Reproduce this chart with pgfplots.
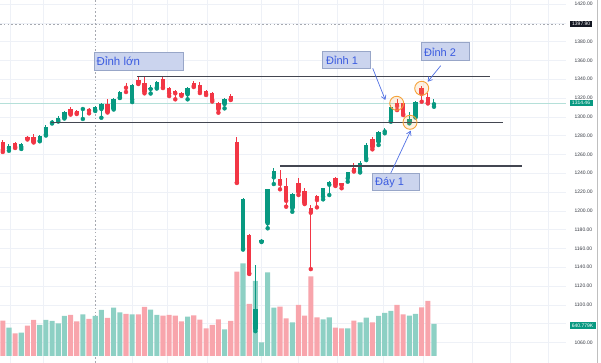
\documentclass[border=0pt]{standalone}
\usepackage{pgfplots}
\pgfplotsset{compat=1.18}
\usepackage{pgfplotstable}
\usepackage{fontspec}
\setmainfont{Liberation Sans}
\usetikzlibrary{arrows.meta}
\definecolor{tvup}{HTML}{089981}
\definecolor{tvdn}{HTML}{F23645}
\definecolor{volup}{HTML}{8DD0C4}
\definecolor{voldn}{HTML}{F8A5AC}
\definecolor{gridc}{HTML}{EEF1F7}
\definecolor{linec}{HTML}{434651}
\definecolor{boxfill}{HTML}{CBD4EE}
\definecolor{boxdraw}{HTML}{98A6C8}
\definecolor{boxtext}{HTML}{3A5BE0}
\definecolor{arrowc}{HTML}{4F6FE3}
\definecolor{circc}{HTML}{F5A33A}
\definecolor{crossc}{HTML}{A6A9B0}
\definecolor{scalec}{HTML}{131722}

\pgfplotstableread{
i o h l c
1 1266.8 1270.8 1263.9 1269.3
3 1267.9 1272.1 1265.8 1271.1
6 1274.6 1280.6 1274.0 1279.6
7 1281.0 1291.3 1280.1 1289.5
8 1293.9 1296.6 1292.9 1295.0
9 1296.6 1300.9 1295.0 1298.4
10 1299.0 1306.2 1298.2 1304.8
13 1308.3 1310.4 1297.7 1309.4
15 1307.2 1311.5 1306.2 1310.4
16 1308.3 1314.7 1299.0 1313.6
18 1308.8 1320.0 1307.8 1318.7
19 1320.7 1328.0 1320.0 1326.7
21 1318.2 1334.9 1315.7 1333.6
24 1329.6 1333.8 1324.8 1330.6
25 1331.2 1338.1 1330.1 1336.8
30 1323.9 1332.2 1318.6 1331.0
36 1313.6 1319.5 1309.0 1318.6
39 1160.1 1213.6 1158.8 1212.2
41 1074.3 1142.3 1072.0 1095.2
42 1167.3 1169.5 1166.8 1168.9
43 1186.7 1223.7 1181.4 1222.9
44 1235.6 1245.2 1228.5 1242.6
47 1202.7 1218.9 1199.0 1217.9
52 1215.0 1224.8 1212.2 1223.9
53 1227.8 1231.7 1216.8 1230.6
56 1234.6 1241.8 1231.0 1241.0
58 1241.6 1252.5 1240.8 1251.2
59 1255.9 1271.8 1254.0 1270.0
61 1273.5 1285.2 1270.0 1283.5
62 1284.4 1287.8 1282.5 1285.4
63 1295.9 1312.6 1294.8 1310.7
66 1294.5 1305.4 1293.1 1297.3
67 1300.1 1317.3 1299.3 1316.1
70 1313.4 1318.6 1310.7 1314.46
}\uptable

\pgfplotstableread{
i o h l c
0 1273.5 1275.3 1262.6 1264.7
2 1272.1 1273.2 1266.8 1267.9
4 1278.8 1280.1 1275.9 1276.7
5 1278.5 1281.7 1272.7 1273.5
11 1308.3 1310.1 1302.4 1303.3
12 1306.2 1307.2 1303.0 1304.1
14 1308.3 1309.4 1303.7 1306.5
17 1313.6 1319.3 1304.6 1305.4
20 1332.2 1335.6 1326.4 1330.9
22 1338.8 1342.9 1334.9 1335.6
23 1336.5 1342.3 1325.0 1326.7
26 1340.7 1342.3 1330.6 1331.4
27 1330.3 1331.7 1322.1 1325.0
28 1327.4 1328.5 1318.6 1325.0
29 1325.0 1325.9 1322.3 1323.2
31 1336.3 1338.1 1331.7 1332.8
32 1333.8 1337.0 1325.3 1326.7
33 1327.4 1328.5 1323.2 1324.3
34 1325.6 1326.4 1316.3 1317.9
35 1315.0 1316.3 1304.4 1308.0
37 1322.1 1324.8 1317.9 1318.6
38 1273.5 1278.8 1229.6 1230.3
40 1173.9 1175.3 1132.8 1133.5
45 1233.5 1243.0 1222.9 1228.5
46 1226.4 1234.6 1204.4 1210.7
48 1229.3 1234.6 1216.8 1219.7
49 1220.8 1224.6 1207.2 1208.0
50 1202.7 1206.2 1138.0 1198.0
51 1216.1 1216.8 1203.7 1211.5
54 1234.9 1236.0 1226.4 1227.8
55 1229.3 1230.1 1224.0 1227.1
57 1245.2 1251.2 1241.8 1242.7
60 1276.1 1278.8 1265.4 1267.6
64 1315.0 1318.6 1307.2 1311.5
65 1315.0 1316.3 1301.9 1303.0
68 1331.0 1332.8 1316.1 1324.3
69 1320.7 1325.0 1314.2 1315.0
}\dntable

\pgfplotstableread{
i v
1 566
3 466
6 620
7 720
8 700
9 654
10 800
13 834
15 800
16 920
18 966
19 874
21 834
24 926
25 820
30 786
36 534
39 1854
41 1500
42 274
43 1674
44 966
47 674
52 734
53 774
56 554
58 674
59 766
61 800
62 860
63 900
66 806
67 840
70 640.779
}\volupt

\pgfplotstableread{
i v
0 706
2 454
4 606
5 720
11 820
12 694
14 740
17 760
20 840
22 834
23 980
26 806
27 820
28 806
29 694
31 814
32 726
33 554
34 620
35 734
37 700
38 1686
40 1040
45 986
46 754
48 1020
49 806
50 1594
51 774
54 566
55 554
57 706
60 674
64 1024
65 834
68 974
69 1100
}\voldnt

\pgfplotsset{
  base/.style={at={(0,0)}, anchor=south west, scale only axis,
    width=566pt, height=363pt, xmin=-0.455, xmax=91.43},
  candle/.style 2 args={only marks, mark=none, color=#1, forget plot,
    error bars/.cd, y dir=plus, y explicit, error mark=none,
    error bar style={line width=#2}}
}

\begin{document}
\begin{tikzpicture}
\useasboundingbox (0,0) rectangle (601pt,363pt);
% grid + price scale
\begin{axis}[base, ymin=1038.1, ymax=1424.3,
  axis line style={draw=none}, major tick length=0pt,
  ytick={1060,1080,...,1420}, yticklabel pos=right,
  yticklabels={1060.00,,1100.00,1120.00,1140.00,1160.00,1180.00,1200.00,1220.00,1240.00,1260.00,1280.00,1300.00,1320.00,1340.00,1360.00,1380.00,,1420.00},
  yticklabel style={font=\fontsize{5}{6}\selectfont, text=scalec!85, anchor=west, xshift=5pt},
  xtick={1.17,6.53,20.97,26.66,33.15,41.92,47.92,54.25,61.72,68.21,76.17,82.34,88.51},
  xticklabels={},
  xmajorgrids, ymajorgrids, major grid style={gridc, line width=0.6pt}]
\addplot[draw=none, forget plot] coordinates {(0,1300)};
\end{axis}
% crosshair + last price line
\begin{scope}[x=1pt, y=-1pt, yshift=363pt]
\draw[crossc, line width=0.6pt, dash pattern=on 1.6pt off 2.2pt] (95,0) -- (95,363);
\draw[crossc, line width=0.6pt, dash pattern=on 1.6pt off 2.2pt] (0,24) -- (566,24);
\draw[tvup!30, line width=0.6pt] (0,103.2) -- (566,103.2);
\draw[black!25, line width=0.6pt] (597.5,0) -- (597.5,363);
\end{scope}
% volume
\begin{axis}[base, ymin=-140, ymax=7120, hide axis]
\addplot[ybar, bar width=5.1pt, bar shift=0pt, fill=volup, draw=none] table[x=i,y=v]{\volupt};
\addplot[ybar, bar width=5.1pt, bar shift=0pt, fill=voldn, draw=none] table[x=i,y=v]{\voldnt};
\end{axis}
% candles
\begin{axis}[base, ymin=1038.1, ymax=1424.3, hide axis]
\addplot[candle={tvup}{1pt}]
  table[x=i, y=l, y error expr=\thisrow{h}-\thisrow{l}]{\uptable};
\addplot[candle={tvdn}{1pt}]
  table[x=i, y=l, y error expr=\thisrow{h}-\thisrow{l}]{\dntable};
\addplot[candle={tvup}{4.4pt}]
  table[x=i, y=o, y error expr=\thisrow{c}-\thisrow{o}]{\uptable};
\addplot[candle={tvdn}{4.4pt}]
  table[x=i, y=c, y error expr=\thisrow{o}-\thisrow{c}]{\dntable};
\end{axis}
% annotations
\begin{scope}[x=1pt, y=-1pt, yshift=363pt]
\draw[linec, line width=1.3pt] (137.3,76.3) -- (490,76.3);
\draw[linec, line width=1.3pt] (51,122.7) -- (502.7,122.7);
\draw[linec, line width=1.3pt] (280,166) -- (521.7,166);
\foreach \cx/\cy in {396.7/103.3, 410/122.3, 421.7/88.3}
  \draw[circc, line width=0.9pt, fill=circc, fill opacity=0.15] (\cx,\cy) circle[radius=7pt];
\draw[boxdraw, fill=boxfill, line width=0.8pt] (94.3,52.7) rectangle (183.7,70);
\node[anchor=base west, text=boxtext, font=\fontsize{11.5}{13}\selectfont, inner sep=0pt] at (96.5,65.7) {Đỉnh lớn};
\draw[boxdraw, fill=boxfill, line width=0.8pt] (322.7,51.7) rectangle (370,68.3);
\node[anchor=base west, text=boxtext, font=\fontsize{11}{13}\selectfont, inner sep=0pt] at (326,64.5) {Đỉnh 1};
\draw[boxdraw, fill=boxfill, line width=0.8pt] (421,42.7) rectangle (469,60);
\node[anchor=base west, text=boxtext, font=\fontsize{11}{13}\selectfont, inner sep=0pt] at (424,56.2) {Đỉnh 2};
\draw[boxdraw, fill=boxfill, line width=0.8pt] (372.3,173.3) rectangle (419.3,190);
\node[anchor=base west, text=boxtext, font=\fontsize{11}{13}\selectfont, inner sep=0pt] at (375,185.5) {Đáy 1};
\draw[arrowc, line width=0.7pt, -{Straight Barb[length=4pt,width=5pt]}] (372.7,68.3) -- (385.3,100);
\draw[arrowc, line width=0.7pt, -{Straight Barb[length=4pt,width=5pt]}] (440.7,65.7) -- (427.7,81.7);
\draw[arrowc, line width=0.7pt, -{Straight Barb[length=4pt,width=5pt]}] (390.7,173.3) -- (410.7,130.7);
\node[fill=scalec, text=white, font=\fontsize{5}{6}\selectfont, inner sep=1.3pt, minimum width=22pt] at (581.2,24) {1397.90};
\node[fill=tvup, text=white, font=\fontsize{5}{6}\selectfont, inner sep=1.3pt, minimum width=23pt] at (581,102.7) {1314.46};
\node[fill=tvup, text=white, font=\fontsize{5}{6}\selectfont, inner sep=1.3pt, minimum width=26pt] at (582.6,325.5) {640.779K};
\end{scope}
\end{tikzpicture}
\end{document}
